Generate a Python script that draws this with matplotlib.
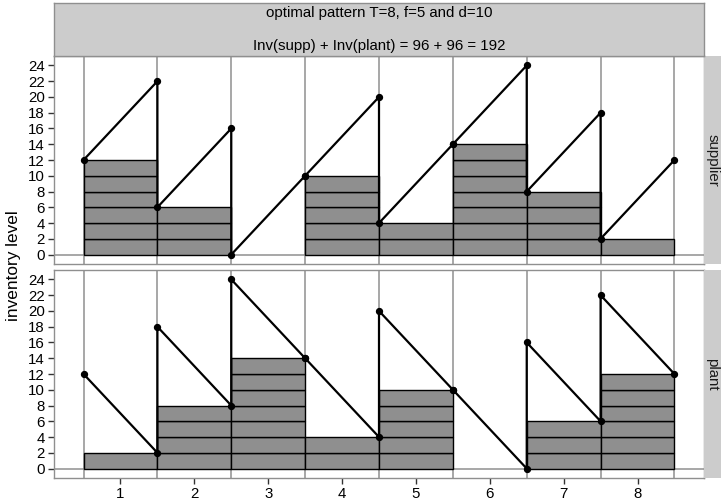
import matplotlib
matplotlib.use("Agg")
import matplotlib.pyplot as plt

plt.rcParams['font.family'] = ['Liberation Sans', 'DejaVu Sans']

# data
periods = [1, 2, 3, 4, 5, 6, 7, 8]
supplier_begin = [12, 6, 0, 10, 4, 14, 8, 2]
supplier_end = [22, 16, 10, 20, 14, 24, 18, 12]
plant_begin = [12, 18, 24, 14, 20, 10, 16, 22]
plant_end = [2, 8, 14, 4, 10, 0, 6, 12]
supplier_bars = supplier_begin
plant_bars = plant_end
unit = 2
y_ticks = list(range(0, 25, 2))

title1 = "optimal pattern T=8, f=5 and d=10"
title2 = "Inv(supp) + Inv(plant) = 96 + 96 = 192"

W, H = 721, 504
fig = plt.figure(figsize=(W / 100, H / 100), dpi=100)

def fx(px):
    return px / W

def fy(py_top, py_bot):
    return (H - py_bot) / H, (py_bot - py_top) / H

grid_col = "#8f8f8f"
bar_col = "#8f8f8f"
strip_col = "#cccccc"
fs = 10.8

def sawtooth(begin, end):
    xs, ys = [], []
    for t, b, e in zip(periods, begin, end):
        xs += [t - 0.5, t + 0.5]
        ys += [b, e]
    return xs, ys

panels = [
    ("supplier", supplier_bars, supplier_begin, supplier_end, 56, 264),
    ("plant", plant_bars, plant_begin, plant_end, 270, 478),
]

for i, (name, bars, beg, end, top, bot) in enumerate(panels):
    b, h = fy(top, bot)
    ax = fig.add_axes([fx(54), b, fx(650), h])
    ax.set_xlim(0.1, 8.9)
    ax.set_ylim(-1.2, 25.2)
    # grid lines
    for t in periods:
        ax.axvline(t - 0.5, color=grid_col, lw=1.1, zorder=0)
    ax.axvline(periods[-1] + 0.5, color=grid_col, lw=1.1, zorder=0)
    ax.axhline(0, color=grid_col, lw=1.1, zorder=0)
    # stacked unit bars
    for t, v in zip(periods, bars):
        n = v // unit
        ax.bar([t] * n, [unit] * n, bottom=[k * unit for k in range(n)],
               width=1.0, color=bar_col, edgecolor="black", linewidth=1.0, zorder=2)
    xs, ys = sawtooth(beg, end)
    ax.plot(xs, ys, color="black", lw=1.6, zorder=3)
    ax.scatter(xs, ys, color="black", s=18, zorder=4)
    ax.set_yticks(y_ticks)
    ax.set_yticklabels([str(v) for v in y_ticks], fontsize=fs)
    ax.tick_params(axis="y", length=4.5, width=1, pad=2, colors="#333333", labelcolor="black")
    if i == 1:
        ax.set_xticks(periods)
        ax.set_xticklabels([str(p) for p in periods], fontsize=fs)
        ax.tick_params(axis="x", length=4.5, width=1, pad=2, colors="#333333", labelcolor="black")
    else:
        ax.set_xticks([])
    for s in ax.spines.values():
        s.set_color(grid_col)
        s.set_linewidth(1.0)

    # right strip
    sax = fig.add_axes([fx(704), b, fx(17), h])
    sax.set_facecolor(strip_col)
    sax.set_xticks([])
    sax.set_yticks([])
    for s in sax.spines.values():
        s.set_visible(False)
    sax.text(0.5, 0.5, name, rotation=-90, ha="center", va="center",
             fontsize=fs, color="#1a1a1a", transform=sax.transAxes)

# top strip
b, h = fy(3, 56)
tax = fig.add_axes([fx(54), b, fx(650), h])
tax.set_facecolor(strip_col)
tax.set_xticks([])
tax.set_yticks([])
for s in tax.spines.values():
    s.set_color(grid_col)
    s.set_linewidth(1.0)
tax.text(0.5, 0.81, title1, ha="center", va="center", fontsize=fs, transform=tax.transAxes)
tax.text(0.5, 0.18, title2, ha="center", va="center", fontsize=fs, transform=tax.transAxes)

fig.text(fx(14), (H - 266) / H, "inventory level", rotation=90, ha="center", va="center", fontsize=12.4)

fig.savefig("out.png", dpi=100)
